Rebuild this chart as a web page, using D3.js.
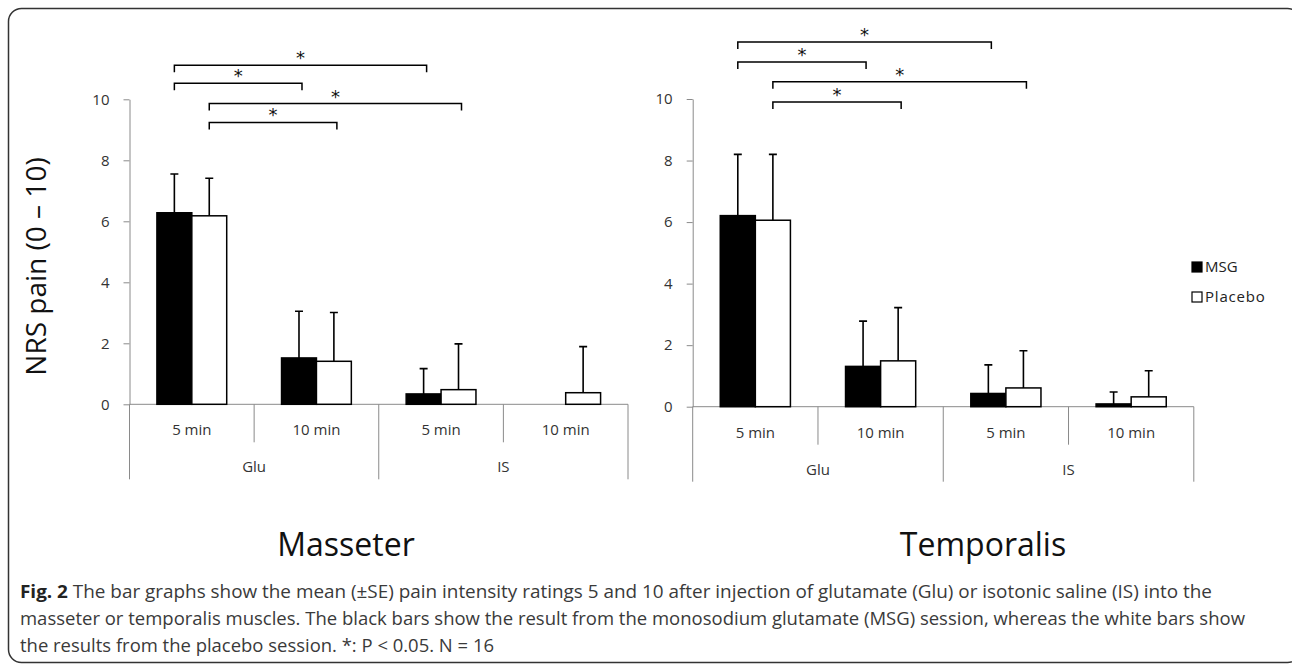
<!DOCTYPE html>
<html>
<head>
<meta charset="utf-8">
<script src="https://cdn.jsdelivr.net/npm/d3@7"></script>
<style>
  body { margin: 0; background: #fff; }
  svg { display: block; font-family: "Open Sans", sans-serif; }
</style>
</head>
<body>
<svg width="1292" height="664"></svg>
<script>
// categories / tick labels
const timeLabels = ["5 min", "10 min", "5 min", "10 min"]
const groupLabels = ["Glu", "IS"]
const series = ["MSG", "Placebo"]
const yTicks = [0, 2, 4, 6, 8, 10]

// Masseter (mean and SE)
const masseterMSG = [6.28, 1.52, 0.34, 0]
const masseterMSGse = [1.27, 1.53, 0.83, 0]
const masseterPlacebo = [6.18, 1.41, 0.48, 0.38]
const masseterPlaceboSe = [1.23, 1.60, 1.50, 1.51]

// Temporalis
const temporalisMSG = [6.21, 1.31, 0.43, 0.09]
const temporalisMSGse = [1.99, 1.47, 0.93, 0.39]
const temporalisPlacebo = [6.06, 1.49, 0.61, 0.32]
const temporalisPlaceboSe = [2.14, 1.73, 1.21, 0.85]

// significance brackets: [fromCategory, toCategory, seriesIndex, level]
const masseterBrackets = [[0, 2, 0, 11.12], [0, 1, 0, 10.53], [0, 2, 1, 9.86], [0, 1, 1, 9.24]]
const temporalisBrackets = [[0, 2, 0, 11.85], [0, 1, 0, 11.2], [0, 2, 1, 10.56], [0, 1, 1, 9.9]]

const captionLines = [
    "The bar graphs show the mean (\u00b1SE) pain intensity ratings 5 and 10 after injection of glutamate (Glu) or isotonic saline (IS) into the",
    "masseter or temporalis muscles. The black bars show the result from the monosodium glutamate (MSG) session, whereas the white bars show",
    "the results from the placebo session. *: P < 0.05. N = 16"
]

let svg = d3.select("svg")

// frame
svg.append("rect")
    .attr("x", 8.5).attr("y", 8.5)
    .attr("width", 1292).attr("height", 654)
    .attr("rx", 13)
    .attr("fill", "none")
    .attr("stroke", "#333")
    .attr("stroke-width", 1.5)

const drawChart = (cfg) => {
    let g = svg.append("g")

    let xScale = d3.scaleBand()
        .domain(d3.range(timeLabels.length))
        .range([cfg.left, cfg.right])
        .paddingInner(0.44)
        .paddingOuter(0.22)

    let xSeries = d3.scaleBand()
        .domain(series)
        .range([0, xScale.bandwidth()])

    let yScale = d3.scaleLinear()
        .domain([0, 10])
        .range([cfg.bottom, cfg.top])

    let step = xScale.step()
    let axisColor = "#8a8a8a"

    // y axis
    let yAxis = d3.axisLeft(yScale)
        .tickValues(yTicks)
        .tickSize(6)
        .tickPadding(14)
        .tickSizeOuter(0)

    let ya = g.append("g")
        .attr("transform", "translate(" + cfg.left + ",0)")
        .call(yAxis)
    ya.select(".domain").attr("stroke", axisColor)
    ya.selectAll(".tick line").attr("stroke", axisColor)
    ya.selectAll(".tick text")
        .attr("font-size", 15)
        .attr("fill", "#333")
        .attr("font-family", "Open Sans")

    // baseline and category frame
    g.append("line")
        .attr("x1", cfg.left).attr("x2", cfg.right)
        .attr("y1", yScale(0)).attr("y2", yScale(0))
        .attr("stroke", axisColor)

    d3.range(timeLabels.length + 1).forEach(i => {
        let long = i % 2 === 0
        g.append("line")
            .attr("x1", cfg.left + i * step).attr("x2", cfg.left + i * step)
            .attr("y1", yScale(0))
            .attr("y2", yScale(0) + (long ? 75 : 38))
            .attr("stroke", axisColor)
    })

    g.selectAll(".tlabel")
        .data(timeLabels)
        .enter()
        .append("text")
        .attr("x", (d, i) => xScale(i) + xScale.bandwidth() / 2)
        .attr("y", yScale(0) + 31)
        .attr("text-anchor", "middle")
        .attr("font-size", 15)
        .attr("fill", "#333")
        .text(d => d)

    g.selectAll(".glabel")
        .data(groupLabels)
        .enter()
        .append("text")
        .attr("x", (d, i) => cfg.left + (2 * i + 1) * step)
        .attr("y", yScale(0) + 68)
        .attr("text-anchor", "middle")
        .attr("font-size", 15)
        .attr("fill", "#333")
        .text(d => d)

    // bars
    let rows = []
    cfg.means.forEach((vals, s) => {
        vals.forEach((v, i) => {
            rows.push({ cat: i, s: series[s], value: v, se: cfg.errs[s][i] })
        })
    })

    let barX = d => xScale(d.cat) + xSeries(d.s)

    g.selectAll(".bar")
        .data(rows)
        .enter()
        .append("rect")
        .attr("x", barX)
        .attr("y", d => yScale(d.value))
        .attr("width", xSeries.bandwidth())
        .attr("height", d => yScale(0) - yScale(d.value))
        .attr("fill", d => d.s === "MSG" ? "#000" : "#fff")
        .attr("stroke", d => d.value > 0 ? "#000" : "none")
        .attr("stroke-width", 1.5)

    // error bars (upper only)
    let errRows = rows.filter(d => d.se > 0)
    let cap = 4
    g.selectAll(".err")
        .data(errRows)
        .enter()
        .append("path")
        .attr("d", d => {
            let cx = barX(d) + xSeries.bandwidth() / 2
            let top = yScale(d.value + d.se)
            return "M" + cx + "," + yScale(d.value) + "V" + top + "M" + (cx - cap) + "," + top + "H" + (cx + cap)
        })
        .attr("stroke", "#000")
        .attr("stroke-width", 1.6)
        .attr("fill", "none")

    // significance brackets
    cfg.brackets.forEach(b => {
        let xa = xScale(b[0]) + xSeries(series[b[2]]) + xSeries.bandwidth() / 2
        let xb = xScale(b[1]) + xSeries(series[b[2]]) + xSeries.bandwidth() / 2 + 3
        let yy = yScale(b[3])
        g.append("path")
            .attr("d", "M" + xa + "," + (yy + 7) + "V" + yy + "H" + xb + "V" + (yy + 7))
            .attr("stroke", "#000")
            .attr("stroke-width", 1.5)
            .attr("fill", "none")
        g.append("text")
            .attr("x", (xa + xb) / 2)
            .attr("y", yy - 1)
            .attr("text-anchor", "middle")
            .attr("font-size", 18)
            .attr("font-family", "DejaVu Sans")
            .attr("fill", "#111")
            .text("*")
    })

    // title under the chart
    g.append("text")
        .attr("x", cfg.titleX)
        .attr("y", 556)
        .attr("text-anchor", "middle")
        .attr("font-size", 32)
        .attr("fill", "#111")
        .text(cfg.title)
}

drawChart({
    left: 129.5, right: 628, top: 99.3, bottom: 404.3,
    means: [masseterMSG, masseterPlacebo],
    errs: [masseterMSGse, masseterPlaceboSe],
    brackets: masseterBrackets,
    title: "Masseter", titleX: 346
})

drawChart({
    left: 692.7, right: 1193.8, top: 99, bottom: 406.7,
    means: [temporalisMSG, temporalisPlacebo],
    errs: [temporalisMSGse, temporalisPlaceboSe],
    brackets: temporalisBrackets,
    title: "Temporalis", titleX: 983
})

// y axis label
svg.append("text")
    .attr("transform", "translate(46,266.5) rotate(-90)")
    .attr("text-anchor", "middle")
    .attr("font-size", 28)
    .attr("fill", "#111")
    .text("NRS pain (0 \u2013 10)")

// legend
let legend = svg.append("g").attr("transform", "translate(1192,262)")
legend.selectAll("rect")
    .data(series)
    .enter()
    .append("rect")
    .attr("x", 0)
    .attr("y", (d, i) => i * 30)
    .attr("width", 10)
    .attr("height", 10)
    .attr("fill", (d, i) => i === 0 ? "#000" : "#fff")
    .attr("stroke", "#000")
    .attr("stroke-width", 1.2)
legend.selectAll("text")
    .data(series)
    .enter()
    .append("text")
    .attr("x", 13)
    .attr("y", (d, i) => i * 30 + 10)
    .attr("font-size", 15)
    .attr("fill", "#222")
    .attr("letter-spacing", (d, i) => i === 1 ? 0.8 : 0)
    .text(d => d)

// caption
let lineEnds = [1212, 1245, 494]
captionLines.forEach((line, i) => {
    let t = svg.append("text")
        .attr("x", 20)
        .attr("y", 598 + i * 27)
        .attr("font-size", 18)
        .attr("fill", "#3a3a3a")
        .attr("textLength", lineEnds[i] - 20)
        .attr("lengthAdjust", "spacingAndGlyphs")
    if (i === 0) {
        t.append("tspan").attr("font-weight", "bold").attr("fill", "#222").text("Fig. 2 ")
    }
    t.append("tspan").text(line)
})
</script>
</body>
</html>
